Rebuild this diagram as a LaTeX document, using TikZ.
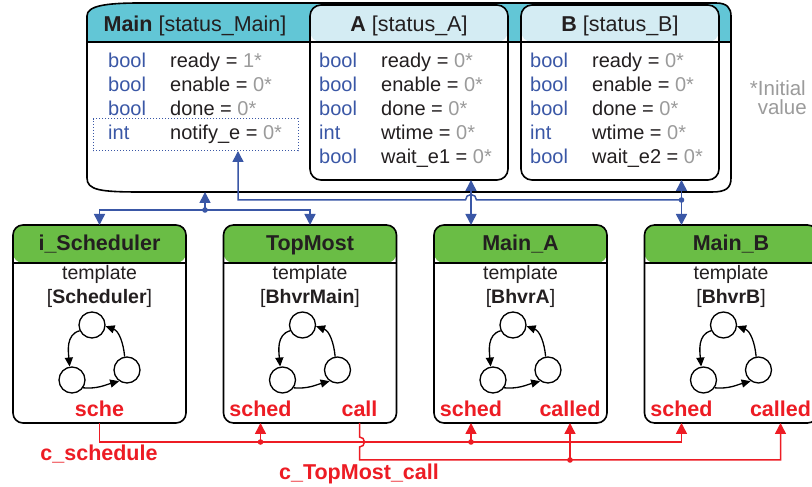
\documentclass[tikz,border=0pt]{standalone}
\usepackage{fontspec}
\setmainfont{Liberation Sans}
\usetikzlibrary{arrows.meta,positioning,calc}
\definecolor{hdrgreen}{HTML}{6ABD45}
\definecolor{hdrcyan}{HTML}{62C6D6}
\definecolor{hdrlight}{HTML}{D4ECF3}
\definecolor{typblue}{HTML}{3A57A6}
\definecolor{valgray}{HTML}{9B9B9B}
\definecolor{txtdark}{HTML}{231F20}
\definecolor{chanred}{HTML}{ED1C24}

\begin{document}
\begin{tikzpicture}[x=1pt, y=1pt, text=txtdark,
    inst/.style={rectangle, rounded corners=10pt, draw=black, line width=1.6pt, fill=white, minimum width=173pt, minimum height=198pt, outer sep=0pt,
        path picture={\fill[hdrgreen] (path picture bounding box.north west) rectangle ([yshift=-38pt]path picture bounding box.north east);
            \draw[line width=1.5pt] ([yshift=-38pt]path picture bounding box.north west) -- ([yshift=-38pt]path picture bounding box.north east);}},
    stbox/.style={rectangle, rounded corners=11pt, draw=black, line width=1.6pt, fill=white, minimum width=198pt, minimum height=175pt, outer sep=0pt,
        path picture={\fill[hdrlight] (path picture bounding box.north west) rectangle ([yshift=-37pt]path picture bounding box.north east);
            \draw[line width=1.5pt] ([yshift=-37pt]path picture bounding box.north west) -- ([yshift=-37pt]path picture bounding box.north east);}},
    ttl/.style={font=\fontsize{21.5}{24}\selectfont, anchor=base, inner sep=0pt},
    tpl/.style={font=\fontsize{19.5}{23}\selectfont, anchor=base, inner sep=0pt},
    typ/.style={font=\fontsize{20}{24}\selectfont, text=typblue, anchor=base west, inner sep=0pt},
    var/.style={font=\fontsize{20}{24}\selectfont, anchor=base west, inner sep=0pt},
    port/.style={font=\fontsize{21.5}{24}\selectfont\bfseries, text=chanred, anchor=base, inner sep=0pt},
    note/.style={font=\fontsize{20.5}{17}\selectfont, text=valgray, anchor=base east, inner sep=0pt},
    dotbox/.style={rectangle, draw=typblue, line width=1pt, dash pattern=on 1.2pt off 1.8pt, minimum width=205pt, minimum height=32pt, outer sep=0pt},
    st/.style={circle, draw, line width=1.3pt, fill=white, minimum size=26pt, inner sep=0pt},
    starr/.style={-{Triangle[length=9pt,width=8pt]}, line width=1.3pt},
    barr/.style={-{Triangle[length=11pt,width=11pt]}, line width=1.5pt, draw=typblue},
    bdarr/.style={{Triangle[length=11pt,width=11pt]}-{Triangle[length=11pt,width=11pt]}, line width=1.5pt, draw=typblue},
    rarr/.style={-{Triangle[length=11pt,width=11pt]}, line width=1.5pt, draw=chanred}
]
    \fill[white] (0,0) rectangle (812,487);
    \useasboundingbox (0,0) rectangle (812,487);

    % Instances
    \node (isch) [inst] at (99.5,163) {};
    \node (topm) [inst, right=37.5pt of isch] {};
    \node (mainA) [inst, right=37.5pt of topm] {};
    \node (mainB) [inst, right=37.5pt of mainA] {};

    \foreach \b/\t/\n in {isch/i\_Scheduler/Scheduler, topm/TopMost/BhvrMain, mainA/Main\_A/BhvrA, mainB/Main\_B/BhvrB} {
        \node (\b-ttl) [ttl] at ([yshift=-26pt]\b.north) {\textbf{\t}};
        \node (\b-tpl) [tpl] at ([yshift=-55pt]\b.north) {template};
        \node (\b-nm) [tpl] at ([yshift=-79pt]\b.north) {[\textbf{\n}]};
        \node (\b-s1) [st] at ([xshift=-7.5pt,yshift=-1pt]\b.center) {};
        \node (\b-s2) [st] at ([xshift=-27.5pt,yshift=-56pt]\b.center) {};
        \node (\b-s3) [st] at ([xshift=27.5pt,yshift=-46pt]\b.center) {};
        \draw[starr] (\b-s1.205) to[out=195, in=95] (\b-s2.100);
        \draw[starr] (\b-s2.-35) to[out=-5, in=195] (\b-s3.235);
        \draw[starr] (\b-s3.100) to[out=95, in=-20] (\b-s1.-5);
    }

    % Ports
    \node (pSche) [port] at ([yshift=6pt]isch.south) {sche};
    \node (pSchedT) [port] at ([xshift=37pt,yshift=6pt]topm.south west) {sched};
    \node (pCall) [port] at ([xshift=-37pt,yshift=6pt]topm.south east) {call};
    \node (pSchedA) [port] at ([xshift=37pt,yshift=6pt]mainA.south west) {sched};
    \node (pCalledA) [port] at ([xshift=-37pt,yshift=6pt]mainA.south east) {called};
    \node (pSchedB) [port] at ([xshift=37pt,yshift=6pt]mainB.south west) {sched};
    \node (pCalledB) [port] at ([xshift=-37pt,yshift=6pt]mainB.south east) {called};

    % Status of Main
    \begin{scope}
        \clip (87,471) .. controls (87,481) and (105,484) .. (140,484) -- (716,484) .. controls (727,484) and (731,479) .. (731,471) -- (731,309) .. controls (731,299) and (726,295) .. (712,295) -- (140,295) .. controls (100,295) and (87,297) .. (87,309) -- cycle;
        \fill[hdrcyan] (80,445) rectangle (740,490);
    \end{scope}
    \draw[line width=1.5pt] (87,445) -- (731,445);
    \draw[line width=1.6pt] (87,471) .. controls (87,481) and (105,484) .. (140,484) -- (716,484) .. controls (727,484) and (731,479) .. (731,471) -- (731,309) .. controls (731,299) and (726,295) .. (712,295) -- (140,295) .. controls (100,295) and (87,297) .. (87,309) -- cycle;
    \node (mainTtl) [ttl] at (195,455) {\textbf{Main} [status\_Main]};
    \foreach \t/\v/\x [count=\i] in {bool/ready/1, bool/enable/0, bool/done/0, int/notify\_e/0} {
        \node (m-t\i) [typ] at (108,443-24*\i) {\t};
        \node (m-v\i) [var] at (170,443-24*\i) {\v{} = {\color{valgray}\x*}};
    }
    \node (ntfbox) [dotbox, anchor=south west] at (93,336) {};

    \node (stA) [stbox, anchor=north west] at (310,482) {};
    \node (stB) [stbox, right=13pt of stA] {};
    \node (stA-ttl) [ttl] at ([yshift=-27pt]stA.north) {\textbf{A} [status\_A]};
    \node (stB-ttl) [ttl] at ([yshift=-27pt]stB.north) {\textbf{B} [status\_B]};
    \foreach \b/\e in {stA/1, stB/2} {
        \foreach \t/\v [count=\i] in {bool/ready, bool/enable, bool/done, int/wtime, bool/wait\_e\e} {
            \node (\b-t\i) [typ] at ([xshift=9pt, yshift={-39pt-24pt*\i}]\b.north west) {\t};
            \node (\b-v\i) [var] at ([xshift=71pt, yshift={-39pt-24pt*\i}]\b.north west) {\v{} = {\color{valgray}0*}};
        }
    }

    \node (initv) [note] at (806,391) {*Initial};
    \node (initv2) [note] at (807,372) {value};

    % Shared variables
    \coordinate (mainIn) at (205,295);
    \coordinate (jL) at (205,277);
    \coordinate (ntfIn) at (238,336);
    \coordinate (busB) at (0,287);
    \draw[barr] (jL) -- (mainIn);
    \draw[barr] (jL) -| (isch.north);
    \draw[barr] (jL) -| (topm.north);
    \fill[typblue] (jL) circle (2.8pt);
    \draw[barr] (pSchedB |- busB) -- ($(pSchedA |- busB)+(5.5,0)$) arc[start angle=0, end angle=180, radius=5.5pt] -- (ntfIn |- busB) -- (ntfIn);
    \draw[bdarr] (stA.south -| pSchedA) -- (mainA.north -| pSchedA);
    \draw[bdarr] (stB.south -| pSchedB) -- (mainB.north -| pSchedB);
    \fill[typblue] (pSchedB |- busB) circle (2.8pt);

    % Channels
    \coordinate (sBus) at (0,45);
    \coordinate (cBus) at (0,27);
    \draw[rarr] (isch.south) |- (pSchedB |- sBus) -- (mainB.south -| pSchedB);
    \draw[rarr] (pSchedT |- sBus) -- (topm.south -| pSchedT);
    \draw[rarr] (pSchedA |- sBus) -- (mainA.south -| pSchedA);
    \fill[chanred] (pSchedT |- sBus) circle (2.8pt);
    \fill[chanred] (pSchedA |- sBus) circle (2.8pt);
    \draw[rarr] (topm.south -| pCall) -- ($(pCall |- sBus)+(0,5)$) arc[start angle=90, end angle=-90, radius=5pt] -- (pCall |- cBus) -| (mainB.south -| pCalledB);
    \draw[rarr] (pCalledA |- cBus) -- (mainA.south -| pCalledA);
    \fill[chanred] (pCalledA |- cBus) circle (2.8pt);

    \node (chSch) [port] at (99,26) {c\_schedule};
    \node (chCall) [port] at (359,7) {c\_TopMost\_call};
\end{tikzpicture}
\end{document}
